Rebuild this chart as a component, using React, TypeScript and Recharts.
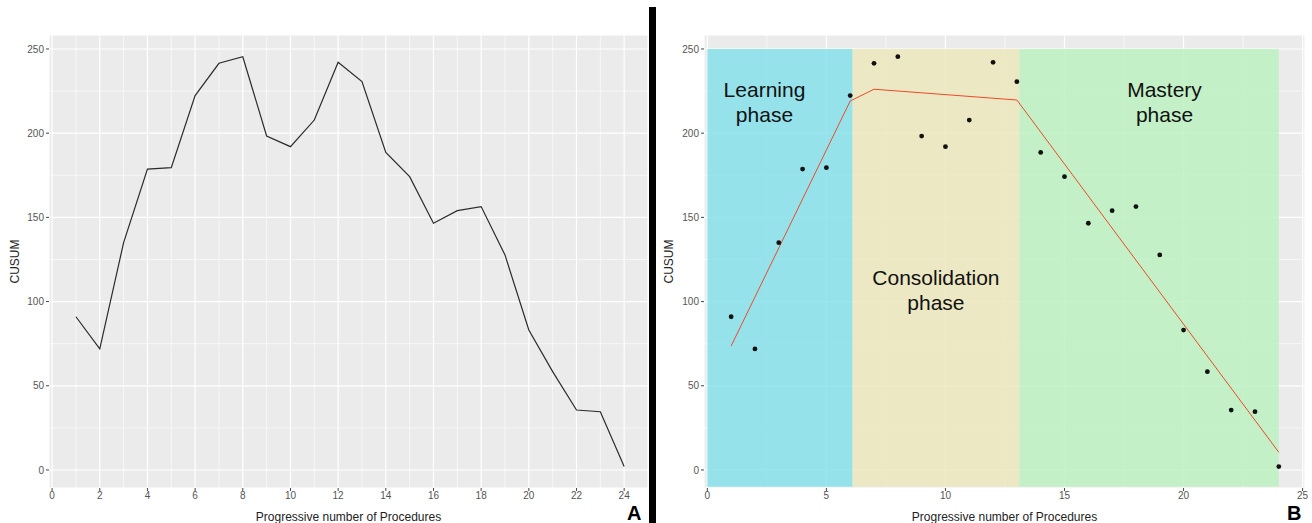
import React from "react";
import {
  ScatterChart,
  Scatter,
  XAxis,
  YAxis,
  CartesianGrid,
  ReferenceArea,
  ReferenceDot,
} from "recharts";

// CUSUM per procedure
const procedures = [1, 2, 3, 4, 5, 6, 7, 8, 9, 10, 11, 12, 13, 14, 15, 16, 17, 18, 19, 20, 21, 22, 23, 24];
const cusum = [
  91.0, 71.9, 135.0, 178.7, 179.5, 222.3, 241.5, 245.4, 198.3, 192.0, 207.8, 242.1,
  230.6, 188.6, 174.2, 146.5, 154.0, 156.4, 127.7, 83.1, 58.4, 35.6, 34.6, 2.0,
];

// segmented fit (vertices of the red line)
const fitX = [1, 6, 7, 13, 24];
const fitY = [73.6, 219.1, 226.1, 219.7, 10.5];

// phases
const phaseNames = [["Learning", "phase"], ["Consolidation", "phase"], ["Mastery", "phase"]];
const phaseStart = [0, 6.1, 13.1];
const phaseEnd = [6.1, 13.1, 24];
const phaseColors = ["#87E0EB", "#EBE8BC", "#BCF1C0"];
const phaseLabelX = [2.4, 9.6, 19.2];
const phaseLabelY = [218.5, 107, 218.5];

const yTicks = [0, 50, 100, 150, 200, 250];
const yMinor = [25, 75, 125, 175, 225];
const xTicksA = [0, 2, 4, 6, 8, 10, 12, 14, 16, 18, 20, 22, 24];
const xMinorA = [1, 3, 5, 7, 9, 11, 13, 15, 17, 19, 21, 23];
const xTicksB = [0, 5, 10, 15, 20, 25];
const xMinorB = [2.5, 7.5, 12.5, 17.5, 22.5];

const points = procedures.map((x, i) => ({ x, y: cusum[i] }));
const fitPoints = fitX.map((x, i) => ({ x, y: fitY[i] }));

const FONT = "'Liberation Sans', Arial, sans-serif";
const tickStyle = { fontSize: 10, fill: "#555", fontFamily: FONT };

const yTitle = (offset: number) => (props: any) => {
  const vb = props.viewBox || { x: 0, y: 35, width: 48, height: 453 };
  const cx = vb.x + offset;
  const cy = vb.y + vb.height / 2;
  return (
    <text
      x={cx}
      y={cy}
      transform={`rotate(-90 ${cx} ${cy})`}
      textAnchor="middle"
      dominantBaseline="central"
      fontSize={12}
      fill="#222"
      fontFamily={FONT}
    >
      CUSUM
    </text>
  );
};

const dot = (p: any) => <circle cx={p.cx} cy={p.cy} r={2.4} fill="#111" />;
const noDot = () => <g />;

function phaseText(lines: string[]) {
  return (p: any) => (
    <text
      x={p.cx}
      y={p.cy}
      textAnchor="middle"
      fontSize={21}
      fill="#111"
      fontFamily={FONT}
    >
      <tspan x={p.cx} dy={-5}>{lines[0]}</tspan>
      <tspan x={p.cx} dy={25}>{lines[1]}</tspan>
    </text>
  );
}

export default function App() {
  return (
    <div style={{ position: "absolute", left: 0, top: 0, width: 1312, height: 523, background: "#fff", fontFamily: FONT }}>
      {/* panel A */}
      <div style={{ position: "absolute", left: 0, top: 0 }}>
        <ScatterChart width={650} height={523} margin={{ top: 35, right: 2, left: 0, bottom: 0 }}>
          <CartesianGrid
            fill="#EBEBEB"
            stroke="#fff"
            strokeWidth={0.6}
            horizontalValues={yMinor}
            verticalValues={xMinorA}
          />
          <CartesianGrid stroke="#fff" strokeWidth={1.2} />
          <XAxis
            type="number"
            dataKey="x"
            domain={[-0.13, 25]}
            ticks={xTicksA}
            height={35}
            axisLine={false}
            tickLine={{ stroke: "#444" }}
            tickSize={3}
            tickMargin={1}
            tick={tickStyle}
            label={{ value: "Progressive number of Procedures", position: "insideBottom", offset: 2, fontSize: 12, fill: "#222", fontFamily: FONT }}
          />
          <YAxis
            type="number"
            dataKey="y"
            domain={[-10.7, 258.3]}
            ticks={yTicks}
            width={49}
            axisLine={false}
            tickLine={{ stroke: "#444" }}
            tickSize={3}
            tickMargin={2}
            tick={tickStyle}
            label={{ content: yTitle(15) }}
          />
          <Scatter
            data={points}
            line={{ stroke: "#2b2b2b", strokeWidth: 1.2 }}
            lineType="joint"
            shape={noDot}
            isAnimationActive={false}
          />
        </ScatterChart>
      </div>

      {/* divider */}
      <div style={{ position: "absolute", left: 649, top: 7, width: 7, height: 516, background: "#000" }} />

      {/* panel B */}
      <div style={{ position: "absolute", left: 656, top: 0 }}>
        <ScatterChart width={656} height={523} margin={{ top: 35, right: 7, left: 0, bottom: 0 }}>
          <CartesianGrid
            fill="#EBEBEB"
            stroke="#fff"
            strokeWidth={0.6}
            horizontalValues={yMinor}
            verticalValues={xMinorB}
          />
          <CartesianGrid stroke="#fff" strokeWidth={1.2} />
          <XAxis
            type="number"
            dataKey="x"
            domain={[-0.14, 25.1]}
            ticks={xTicksB}
            height={35}
            axisLine={false}
            tickLine={{ stroke: "#444" }}
            tickSize={3}
            tickMargin={1}
            tick={tickStyle}
            label={{ value: "Progressive number of Procedures", position: "insideBottom", offset: 2, fontSize: 12, fill: "#222", fontFamily: FONT }}
          />
          <YAxis
            type="number"
            dataKey="y"
            domain={[-10.7, 258.3]}
            ticks={yTicks}
            width={48}
            axisLine={false}
            tickLine={{ stroke: "#444" }}
            tickSize={3}
            tickMargin={2}
            tick={tickStyle}
            label={{ content: yTitle(13) }}
          />
          {phaseStart.map((s, i) => (
            <ReferenceArea
              key={"a" + i}
              x1={s}
              x2={phaseEnd[i]}
              y1={-10}
              y2={250}
              fill={phaseColors[i]}
              fillOpacity={0.85}
              stroke="none"
            />
          ))}
          {phaseNames.map((lines, i) => (
            <ReferenceDot
              key={"t" + i}
              x={phaseLabelX[i]}
              y={phaseLabelY[i]}
              r={0}
              shape={phaseText(lines)}
            />
          ))}
          <Scatter
            data={fitPoints}
            line={{ stroke: "#EE4A2C", strokeWidth: 1 }}
            lineType="joint"
            shape={noDot}
            isAnimationActive={false}
          />
          <Scatter data={points} shape={dot} isAnimationActive={false} />
        </ScatterChart>
      </div>

      <div style={{ position: "absolute", left: 627, top: 503, fontSize: 20, fontWeight: "bold", color: "#000", lineHeight: "20px" }}>A</div>
      <div style={{ position: "absolute", left: 1287, top: 503, fontSize: 20, fontWeight: "bold", color: "#000", lineHeight: "20px" }}>B</div>
    </div>
  );
}
